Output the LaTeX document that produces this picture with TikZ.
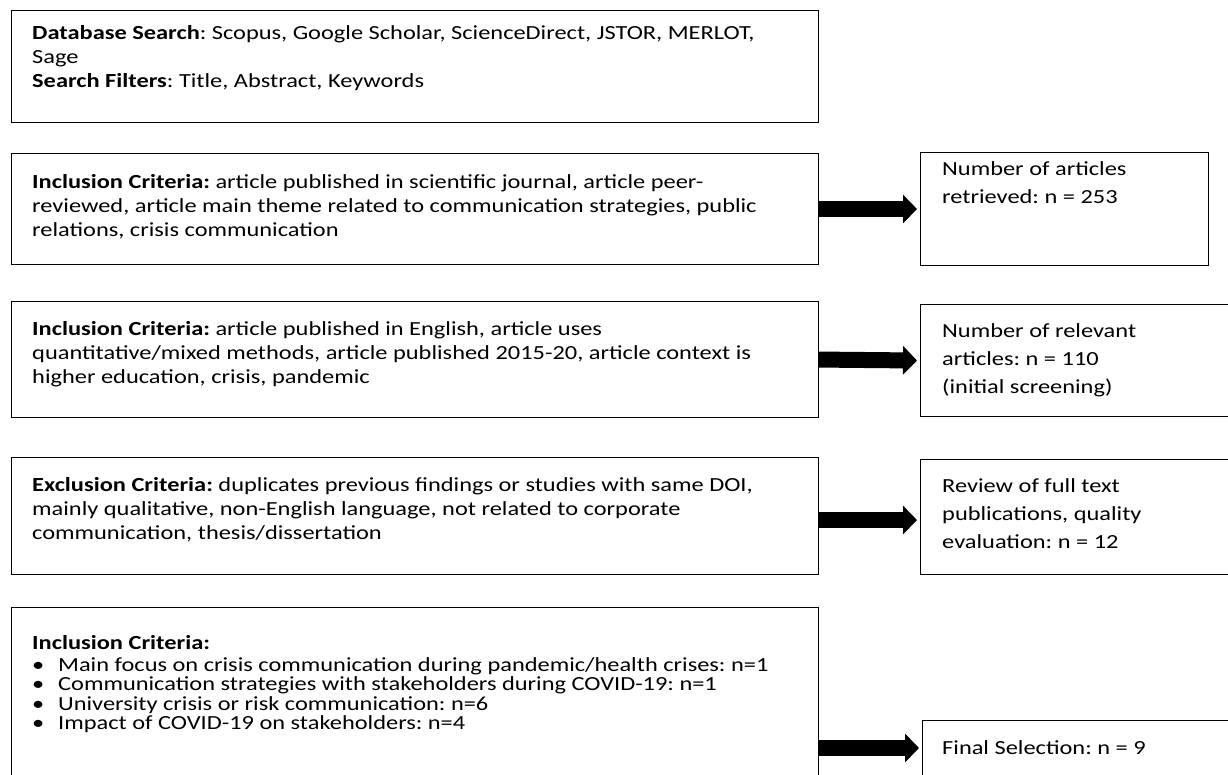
\documentclass[tikz,border=0pt]{standalone}
\usepackage{fontspec}
\setmainfont{Carlito}[FakeStretch=1.22]
\usetikzlibrary{arrows.meta}
\frenchspacing
\begin{document}
\begin{tikzpicture}[x=1pt,y=-1pt,
  box/.style={draw=black, line width=1.1pt, anchor=north west, inner sep=0pt, rectangle},
  ltext/.style={anchor=north west, inner sep=0pt, text width=800pt, align=flush left, font={\fontsize{20}{24}\selectfont}},
  rtext/.style={anchor=north west, inner sep=0pt, text width=290pt, align=flush left, font={\fontsize{20}{28}\selectfont}},
  bline/.style={anchor=base west, inner sep=0pt, font={\fontsize{20}{24}\selectfont}},
  bigarrow/.style={line width=16pt, -{Triangle[length=14pt,width=28pt]}, shorten >=3pt}
]
\useasboundingbox (0,0) rectangle (1228,775);
\clip (0,0) rectangle (1228,775);

% left boxes
\node[box, minimum width=807pt, minimum height=112pt] (b1) at (11,10) {};
\node[box, minimum width=807pt, minimum height=111pt] (b2) at (11,153) {};
\node[box, minimum width=807pt, minimum height=116pt] (b3) at (11,301) {};
\node[box, minimum width=807pt, minimum height=117pt] (b4) at (11,457) {};
\node[box, minimum width=807pt, minimum height=220pt] (b5) at (11,607) {};

% right boxes
\node[box, minimum width=288pt, minimum height=113pt] (r1) at (920,152) {};
\node[box, minimum width=340pt, minimum height=112pt] (r2) at (920,304) {};
\node[box, minimum width=340pt, minimum height=115pt] (r3) at (920,459) {};
\node[box, minimum width=340pt, minimum height=120pt] (r4) at (922,720) {};

% texts left
\node[ltext] (t1) at (32,22.2) {\strut\textbf{Database Search}: Scopus, Google Scholar, ScienceDirect, JSTOR, MERLOT,\\Sage\\\textbf{Search Filters}: Title, Abstract, Keywords};
\node[ltext] (t2) at (32,171.2) {\strut\textbf{Inclusion Criteria:} article published in scientific journal, article peer-\\reviewed, article main theme related to communication strategies, public\\relations, crisis communication};
\node[ltext] (t3) at (32,318.2) {\strut\textbf{Inclusion Criteria:} article published in English, article uses\\quantitative/mixed methods, article published 2015-20, article context is\\higher education, crisis, pandemic};
\node[ltext] (t4) at (32,474.2) {\strut\textbf{Exclusion Criteria:} duplicates previous findings or studies with same DOI,\\mainly qualitative, non-English language, not related to corporate\\communication, thesis/dissertation};
\node[bline] (t5) at (32,649) {\textbf{Inclusion Criteria:}};
\node[bline] (t5a) at (32,671) {\makebox[26pt][l]{•}Main focus on crisis communication during pandemic/health crises: n=1};
\node[bline] (t5b) at (32,690.5) {\makebox[26pt][l]{•}Communication strategies with stakeholders during COVID-19: n=1};
\node[bline] (t5c) at (32,710) {\makebox[26pt][l]{•}University crisis or risk communication: n=6};
\node[bline] (t5d) at (32,729.5) {\makebox[26pt][l]{•}Impact of COVID-19 on stakeholders: n=4};

% texts right
\node[rtext] (s1) at (942,155.4) {\strut Number of articles\\retrieved: n = 253};
\node[rtext] (s2) at (942,317.4) {\strut Number of relevant\\articles: n = 110\\(initial screening)};
\node[rtext] (s3) at (942,472.4) {\strut Review of full text\\publications, quality\\evaluation: n = 12};
\node[bline] (s4) at (942,754) {Final Selection: n = 9};

% arrows
\coordinate (a4) at (0,748);
\draw[bigarrow] (b2.east) -- (r1.west);
\draw[bigarrow] (b3.east) -- (r2.west);
\draw[bigarrow] ([yshift=-4pt]b4.east) -- ([yshift=-4pt]b4.east -| r3.west);
\draw[bigarrow] (b5.east |- a4) -- (r4.west |- a4);
\end{tikzpicture}
\end{document}
